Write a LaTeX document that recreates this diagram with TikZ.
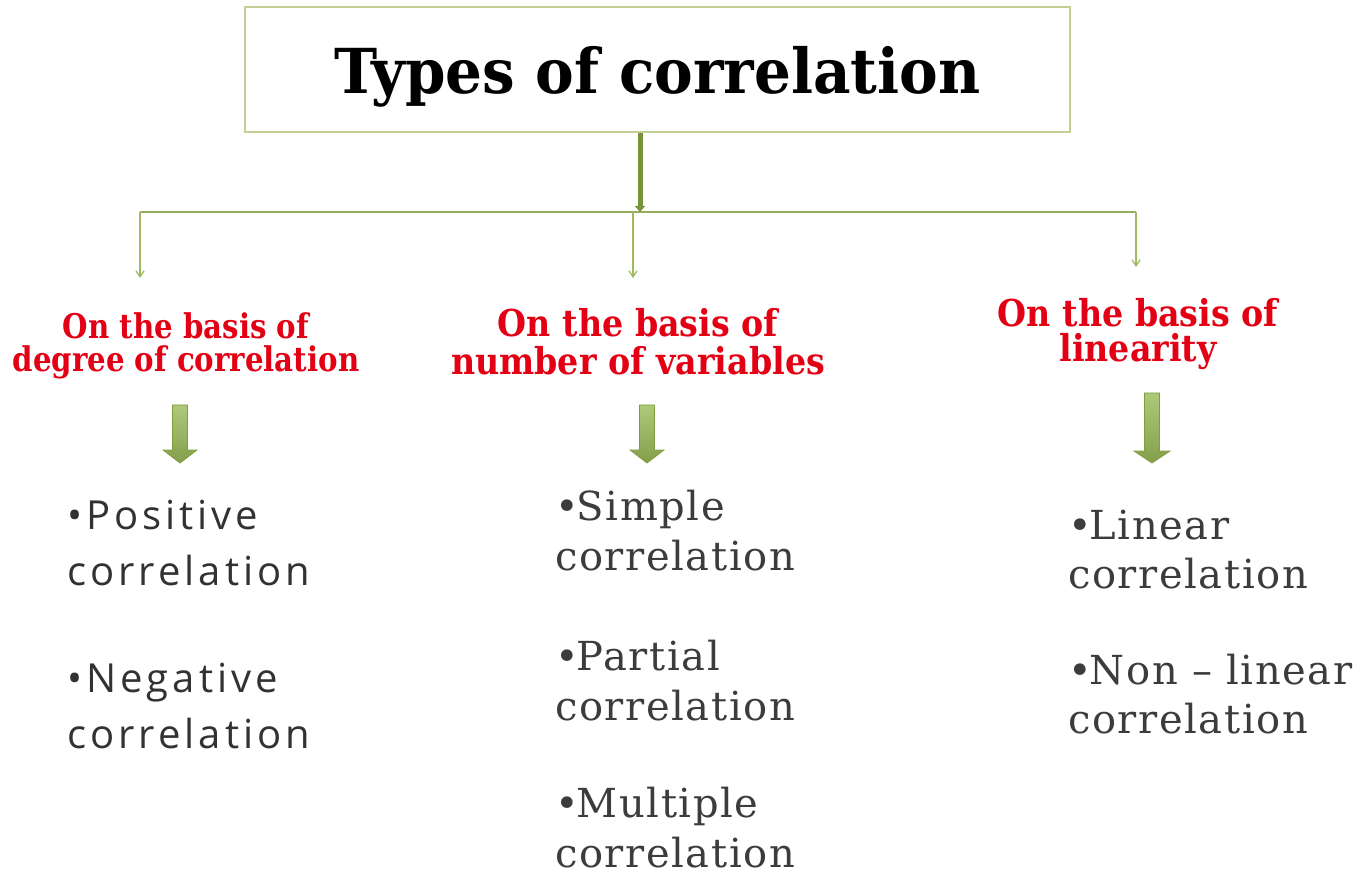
\documentclass[tikz,border=0pt]{standalone}
\usepackage{fontspec}
\newfontfamily\slabfont{DejaVu Serif}[FakeStretch=0.935]
\newfontfamily\redfontA{DejaVu Serif}[FakeStretch=0.86]
\newfontfamily\redfontB{DejaVu Serif}[FakeStretch=0.9]
\newfontfamily\redfontC{DejaVu Serif}[FakeStretch=0.9]
\newfontfamily\sansitem{Open Sans}[LetterSpace=10]
\newfontfamily\serifitem{DejaVu Serif}[LetterSpace=4]
\newcommand{\bul}{•\kern-2pt}
\usetikzlibrary{arrows.meta}
\definecolor{boxborder}{RGB}{196,207,150}
\definecolor{darkolive}{RGB}{119,147,60}
\definecolor{hline}{RGB}{150,172,92}
\definecolor{dropline}{RGB}{160,186,100}
\definecolor{blockfill}{RGB}{155,187,89}
\definecolor{blockedge}{RGB}{128,158,62}
\definecolor{labelred}{RGB}{228,0,20}
\definecolor{itemgray}{RGB}{50,50,50}
\definecolor{serifgray}{RGB}{60,60,60}
\tikzset{
  titlebox/.style={draw=boxborder, line width=2.5pt, fill=white, minimum width=825pt, minimum height=125pt,
    text height=50pt, text depth=1pt, inner sep=0pt, font=\slabfont\bfseries\fontsize{62}{70}\selectfont},
  basislabel/.style={align=center, anchor=base, text=labelred, inner sep=0pt},
  sanslist/.style={align=left, anchor=base west, inner sep=0pt, text=itemgray,
    font=\sansitem\fontsize{40}{56}\selectfont},
  seriflist/.style={align=left, anchor=base west, inner sep=0pt, text=serifgray,
    font=\serifitem\fontsize{40}{50}\selectfont},
  droparrow/.style={draw=dropline, line width=1.3pt, -{Straight Barb[length=6pt,width=8pt]}},
  blockarrow/.style={draw=blockedge, line width=0.8pt, top color=blockfill!80!white, bottom color=blockfill!85!black},
}
\begin{document}
\begin{tikzpicture}[x=1pt, y=-1pt]
\useasboundingbox[fill=white] (0,0) rectangle (1371,874);

% title
\node[titlebox] (title) at (657.5,69.5) {Types of correlation};

% trunk and branch line
\coordinate (junction) at (640,212);
\coordinate (hl) at (140,212);
\coordinate (hr) at (1136,212);
\draw[hline, line width=2.5pt] (hl) -- (hr);
\draw[darkolive, line width=5pt, -{Triangle[length=6pt,width=10pt]}] (title.south -| junction) -- (junction);

% branch targets
\coordinate (tl) at (140,278);
\coordinate (tm) at (633,278);
\coordinate (tr) at (1136,267);
\draw[droparrow] (hl) -- (tl);
\draw[droparrow] (633,212) -- (tm);
\draw[droparrow] (hr) -- (tr);

% red labels (anchor = baseline of last line)
\node[basislabel, font=\redfontA\bfseries\fontsize{34}{33}\selectfont] (degree) at (186,372)
  {On the basis of\\degree of correlation};
\node[basislabel, font=\redfontB\bfseries\fontsize{37}{38}\selectfont] (number) at (638,375)
  {On the basis of\\number of variables};
\node[basislabel, font=\redfontC\bfseries\fontsize{37}{35}\selectfont] (linear) at (1138,362)
  {On the basis of\\linearity};

% block arrows
\path[blockarrow] (172.5,405) -- (187.5,405) -- (187.5,450) -- (197,450) -- (180,463) -- (163,450) -- (172.5,450) -- cycle;
\path[blockarrow] (639.5,405) -- (654.5,405) -- (654.5,450) -- (664,450) -- (647,463) -- (630,450) -- (639.5,450) -- cycle;
\path[blockarrow] (1144.5,393) -- (1159.5,393) -- (1159.5,451) -- (1170,451) -- (1152,463) -- (1134,451) -- (1144.5,451) -- cycle;

% left list
\node[sanslist] (pos) at (67,585) {•Positive\\correlation};
\node[sanslist] (neg) at (67,748) {•Negative\\correlation};

% middle list
\node[seriflist] (simple) at (555,570) {\bul Simple\\correlation};
\node[seriflist] (partial) at (555,720) {\bul Partial\\correlation};
\node[seriflist] (multiple) at (555,867) {\bul Multiple\\correlation};

% right list
\node[seriflist, font=\serifitem\fontsize{40}{49}\selectfont] (lin) at (1068,588) {\bul Linear\\correlation};
\node[seriflist, font=\serifitem\fontsize{40}{49}\selectfont] (nonlin) at (1068,733) {\bul Non – linear\\correlation};
\end{tikzpicture}
\end{document}
